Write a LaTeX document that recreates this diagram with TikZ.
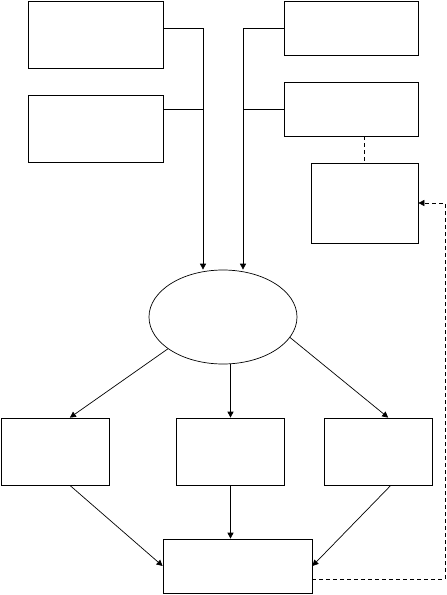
\documentclass[tikz,border=0pt]{standalone}
\usetikzlibrary{arrows.meta,shapes.geometric}

\begin{document}
\begin{tikzpicture}[x=1pt, y=-1pt, line width=0.7pt,
    box/.style={draw, rectangle, inner sep=0pt},
    tri/.style={-{Triangle[length=6pt,width=6pt]}},
    dashline/.style={dash pattern=on 4pt off 3pt}]
            \useasboundingbox (0,0) rectangle (447,595);

            % upper boxes
            \node[box, minimum width=135, minimum height=67] (A) at (95.5,34.5) {};
            \node[box, minimum width=135, minimum height=67] (B) at (95.5,128.5) {};
            \node[box, minimum width=134, minimum height=54] (C) at (351,28) {};
            \node[box, minimum width=134, minimum height=54] (D) at (351,109) {};
            \node[box, minimum width=107, minimum height=80] (E) at (364.5,203) {};

            \node[draw, ellipse, inner sep=0pt, minimum width=148, minimum height=94] (ell) at (223,317) {};

            % lower boxes
            \node[box, minimum width=108, minimum height=67] (F) at (55.5,451.5) {};
            \node[box, minimum width=108, minimum height=67] (G) at (230.5,451.5) {};
            \node[box, minimum width=108, minimum height=67] (H) at (378.5,451.5) {};
            \node[box, minimum width=149, minimum height=54] (I) at (237.5,566) {};

            \coordinate (jA) at (203,28);
            \coordinate (jB) at (203,109);
            \coordinate (jC) at (243,28);
            \coordinate (jD) at (243,109);
            \coordinate (fb) at (445,579);

            \draw[tri] (A.east |- jA) -- (jA) -- (jA |- ell.north);
            \draw (B.east |- jB) -- (jB);
            \draw[tri] (C.west |- jC) -- (jC) -- (jC |- ell.north);
            \draw (D.west |- jD) -- (jD);
            \draw[dashline] (D.south -| E.north) -- (E.north);

            \draw[tri] (ell.210) -- (F.67);
            \draw[tri] (G.north |- ell.south) -- (G.north);
            \draw[tri] (ell.343) -- (H.74);

            \draw[tri] (F.-67) -- (I.west);
            \draw[tri] (G.south) -- (G.south |- I.north);
            \draw[tri] (H.-70) -- (I.east);

            % feedback
            \draw[dashline, tri] (I.east |- fb) -- (fb) -- (fb |- E.east) -- (E.east);
        \end{tikzpicture}
\end{document}
